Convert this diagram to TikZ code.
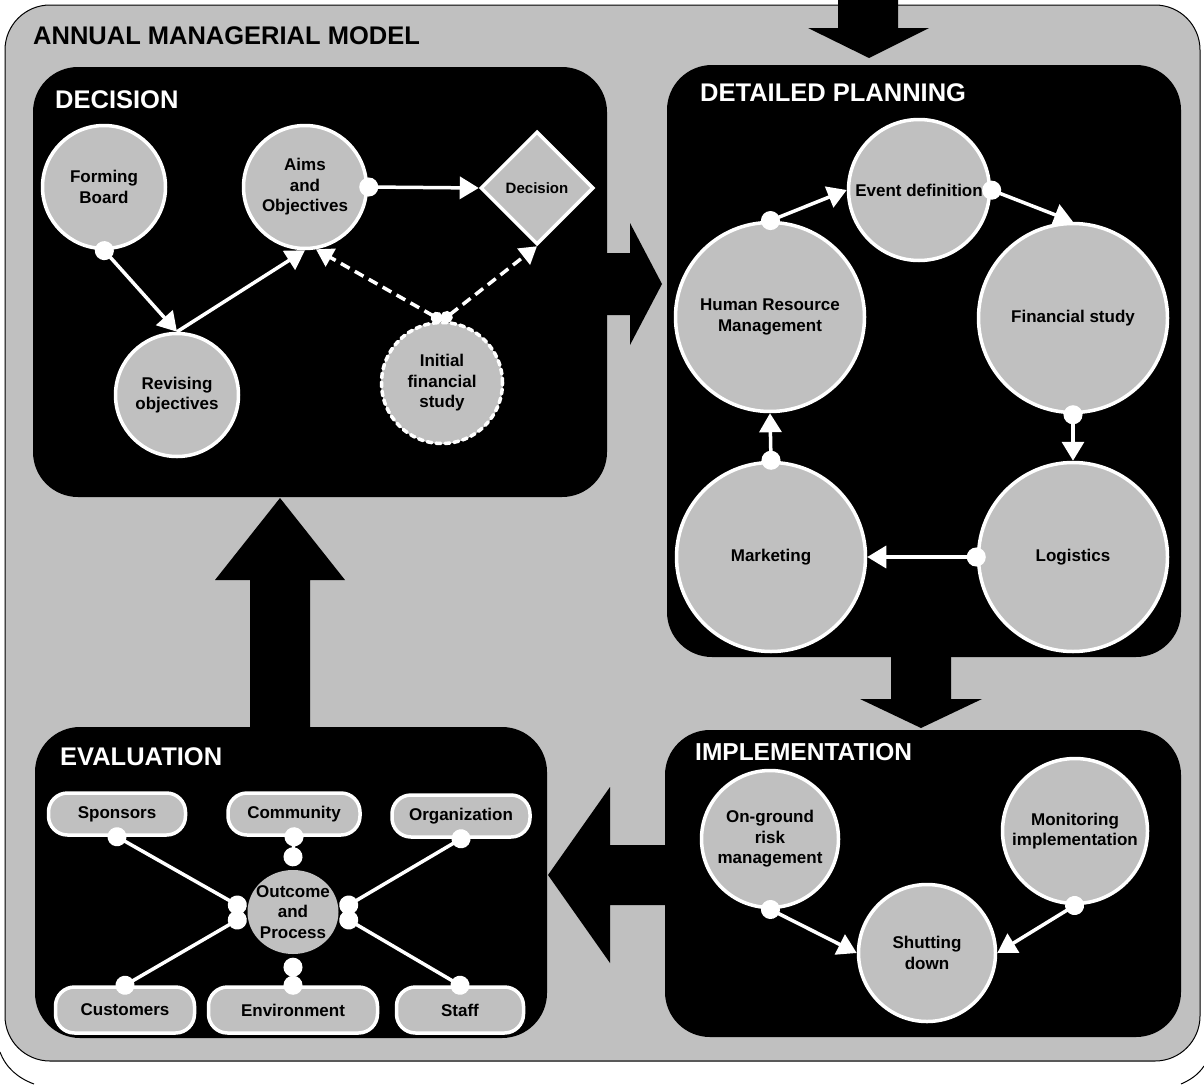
\documentclass[tikz,border=0pt]{standalone}
\usepackage{fontspec}
\setmainfont{Liberation Sans}
\usetikzlibrary{shapes.geometric,arrows.meta}
\definecolor{gry}{RGB}{192,192,192}
\begin{document}
\begin{tikzpicture}[x=1pt,y=-1pt,
  sect/.style={fill=black, rounded corners=45pt, inner sep=0pt},
  hdr/.style={anchor=west, text=white, inner sep=0pt, font=\bfseries\fontsize{25.5}{30}\selectfont},
  bub/.style={circle, fill=gry, draw=white, line width=3.5pt, inner sep=0pt, align=center, text=black, font=\bfseries\fontsize{17}{20.5}\selectfont},
  pill/.style={rectangle, rounded corners=19pt, fill=gry, draw=white, line width=3.5pt, inner sep=0pt, text=black, font=\bfseries\fontsize{17}{20.5}\selectfont},
  flow/.style={draw=white, line width=3.5pt, {Circle[length=19pt]}-{Triangle[length=19pt,width=22pt]}, shorten <=-9pt},
  flowx/.style={draw=white, line width=3.5pt, -{Triangle[length=19pt,width=22pt]}},
  dflow/.style={draw=white, line width=3.5pt, dash pattern=on 10pt off 6pt, {Circle[length=12pt]}-{Triangle[length=17pt,width=20pt]}},
  link/.style={draw=white, line width=3.5pt, {Circle[length=19pt]}-{Circle[length=19pt]}, shorten <=-9.5pt, shorten >=-9.5pt},
  blk/.style={fill=black}
]
\useasboundingbox (0,0) rectangle (1204,1084);
% outer frame
\draw[black, line width=1pt, fill=gry, rounded corners=45pt] (5,5) rectangle (1200,1061);
\draw[black!65, line width=1.5pt] (50,1061) -- (1155,1061);
\draw[black, line width=1pt] (0,1052) .. controls (6,1068) and (18,1078) .. (34,1084);
\draw[black, line width=1pt] (1204,1066) .. controls (1198,1075) and (1190,1080) .. (1181,1084);

% section boxes
\node[sect, minimum width=574pt, minimum height=430pt] (decbox) at (320,282) {};
\node[sect, minimum width=514pt, minimum height=592pt] (dpbox) at (924,361) {};
\node[sect, minimum width=516pt, minimum height=307pt] (impbox) at (923,883.5) {};
\node[sect, minimum width=512pt, minimum height=311pt] (evbox) at (291,882.5) {};

% block arrows
\fill[blk] (838,-1) -- (898,-1) -- (898,28) -- (929,28) -- (869,58) -- (808,28) -- (838,28) -- cycle;
\fill[blk] (600,253) -- (630,253) -- (630,223) -- (662,284) -- (630,345) -- (630,315) -- (600,315) -- cycle;
\fill[blk] (891,650) -- (951,650) -- (951,699) -- (982,699) -- (921,728) -- (860,699) -- (891,699) -- cycle;
\fill[blk] (672,845) -- (610,845) -- (610,787) -- (548,875) -- (610,963) -- (610,905) -- (672,905) -- cycle;
\fill[blk] (250,735) -- (250,580) -- (215,580) -- (280,498) -- (345,580) -- (310,580) -- (310,735) -- cycle;

% headers
\node[hdr, text=black] (title) at (33,36) {ANNUAL MANAGERIAL MODEL};
\node[hdr] (hdec) at (55,100) {DECISION};
\node[hdr] (hdp) at (700,93) {DETAILED PLANNING};
\node[hdr] (hev) at (60,757) {EVALUATION};
\node[hdr, font=\bfseries\fontsize{24.5}{30}\selectfont] (himp) at (695,752) {IMPLEMENTATION};

% decision
\node[bub, minimum size=123pt] (fb) at (104,187) {Forming\\Board};
\node[bub, minimum size=123pt] (ao) at (305,187) {Aims\\and\\Objectives};
\node[diamond, aspect=1, fill=gry, draw=white, line width=3.5pt, inner sep=0pt, minimum width=113pt, minimum height=113pt, text=black, font=\bfseries\fontsize{15}{18}\selectfont] (dec) at (537,188) {Decision};
\node[bub, minimum size=123pt] (ro) at (177,395) {Revising\\objectives};
\node[bub, minimum size=121pt, dash pattern=on 5pt off 4pt, line cap=round] (ifs) at (442,383) {Initial\\financial\\study};

\draw[flow] (fb.south) -- (ro.north);
\draw[flowx] (ro.north) -- (ao.south);
\draw[flow] (ao.east) -- (dec.west);
\draw[dflow] (ifs.north) -- (ao.-80);
\draw[dflow] (ifs.north) -- (dec.south);

% detailed planning
\node[bub, minimum size=141pt] (ed) at (919,190) {Event definition};
\node[bub, minimum size=189pt] (hrm) at (770,317) {Human Resource\\Management};
\node[bub, minimum size=189pt] (fs) at (1073,318) {Financial study};
\node[bub, minimum size=189pt] (mk) at (771,557) {Marketing};
\node[bub, minimum size=189pt] (lg) at (1073,557) {Logistics};

\draw[flow] (hrm.north) -- (ed.west);
\draw[flow] (ed.east) -- (fs.north);
\draw[flow] (fs.south) -- (lg.north);
\draw[flow] (lg.west) -- (mk.east);
\draw[flow] (mk.north) -- (hrm.south);

% implementation
\node[bub, minimum size=137pt] (og) at (770,839) {On-ground\\risk\\management};
\node[bub, minimum size=145pt] (mi) at (1075,831) {Monitoring\\implementation};
\node[bub, minimum size=137pt] (sd) at (927,953) {Shutting\\down};

\draw[flow] (og.south) -- (sd.west);
\draw[flow] (mi.south) -- (sd.east);

% evaluation
\node[pill, minimum width=137pt, minimum height=42pt] (spon) at (117,814) {Sponsors};
\node[pill, minimum width=132pt, minimum height=42pt] (comm) at (294,814) {Community};
\node[pill, minimum width=138pt, minimum height=42pt] (org) at (461,816) {Organization};
\node[pill, minimum width=139pt, minimum height=46pt] (cust) at (125,1010) {Customers};
\node[pill, minimum width=169pt, minimum height=46pt] (env) at (293,1010) {Environment};
\node[pill, minimum width=127pt, minimum height=46pt] (staff) at (460,1010) {Staff};
\node[ellipse, fill=gry, minimum width=91pt, minimum height=84pt, inner sep=0pt] (oap) at (293,912) {};
\node[align=center, inner sep=0pt, text=black, font=\bfseries\fontsize{17}{20.5}\selectfont] (oapt) at (oap.center) {Outcome\\and\\Process};

\draw[link] (spon.south) -- ([shift={(-10,-7)}]oap.west);
\draw[link] (cust.north) -- ([shift={(-10,8)}]oap.west);
\draw[link] (org.south) -- ([shift={(10,-7)}]oap.east);
\draw[link] (staff.north) -- ([shift={(10,8)}]oap.east);
\draw[link] (comm.south) -- ([shift={(0,-13)}]oap.north);
\draw[link] (env.north) -- ([shift={(0,13)}]oap.south);
\end{tikzpicture}
\end{document}
